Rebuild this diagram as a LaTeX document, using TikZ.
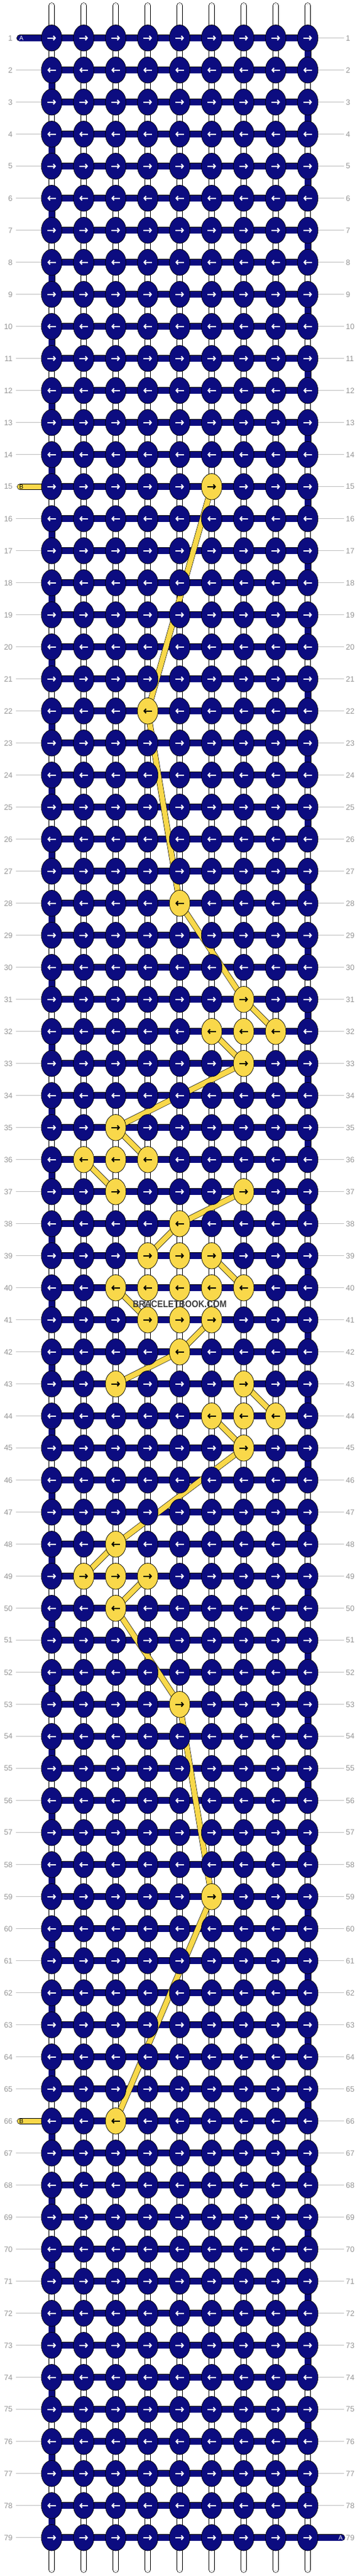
\documentclass[tikz,border=0pt]{standalone}
\usepackage{fontspec}
\setmainfont{Liberation Sans}
\usetikzlibrary{shapes.geometric,arrows.meta}

\definecolor{knotblue}{RGB}{12,12,128}
\definecolor{knotyellow}{RGB}{249,216,74}
\definecolor{labelgray}{RGB}{150,150,150}
\definecolor{linegray}{RGB}{192,192,192}
\definecolor{markgray}{RGB}{58,58,58}

\pgfdeclarelayer{back}
\pgfdeclarelayer{mid}
\pgfsetlayers{back,mid,main}

\tikzset{
  knot/.style={ellipse, draw=black, line width=0.7pt, minimum width=33.5pt, minimum height=42.5pt, inner sep=0pt},
  tip/.style={line width=2pt, -{Straight Barb[length=3pt,width=7pt]}},
  rarrow/.style={path picture={\draw[tip,karrow] ([xshift=-7pt]path picture bounding box.center) -- ([xshift=7pt]path picture bounding box.center);}},
  larrow/.style={path picture={\draw[tip,karrow] ([xshift=7pt]path picture bounding box.center) -- ([xshift=-7pt]path picture bounding box.center);}},
  white string/.style={double=white, double distance=8.8pt, line width=0.6pt, line cap=round},
  core/.style={draw=linegray, double=white, double distance=3.4pt, line width=0.6pt, line cap=round},
  astring/.style={double=knotblue, double distance=9.6pt, line width=0.7pt},
  bstring/.style={double=knotyellow, double distance=8.4pt, line width=0.6pt},
  rowlab/.style={font=\fontsize{12.5}{13}\selectfont, text=labelgray, inner sep=0pt},
  rowline/.style={draw=linegray, line width=1pt},
  endlab/.style={font=\fontsize{10}{10}\selectfont, inner sep=0pt}
}

\newcommand{\yellowknots}{15-6,22-4,28-5,31-7,32-6,32-7,32-8,33-7,35-3,36-2,36-3,36-4,37-3,37-7,38-5,39-4,39-5,39-6,40-3,40-4,40-5,40-6,40-7,41-4,41-5,41-6,42-5,43-3,43-7,44-6,44-7,44-8,45-7,48-3,49-2,49-3,49-4,50-3,53-5,59-6,66-3}
\newcommand{\bpath}{15-6/22-4,22-4/28-5,28-5/31-7,31-7/32-8,32-6/33-7,33-7/35-3,35-3/36-4,36-2/37-3,37-7/38-5,38-5/39-4,39-6/40-7,40-3/41-4,41-6/42-5,42-5/43-3,43-7/44-8,44-6/45-7,45-7/48-3,48-3/49-2,49-4/50-3,50-3/53-5,53-5/59-6,59-6/66-3}

\begin{document}
\begin{tikzpicture}[x=52pt, y=-52pt]
  \useasboundingbox (-0.6154,-0.1865) rectangle (10.6154,80.198);
  \foreach \p in \yellowknots {\expandafter\gdef\csname y@\p\endcsname{}}

  \foreach \r in {1,...,79} {
    \foreach \c in {1,...,9} {
      \ifcsname y@\r-\c\endcsname
        \tikzset{kfill/.style={fill=knotyellow}, karrow/.style={black}}
      \else
        \tikzset{kfill/.style={fill=knotblue}, karrow/.style={white}}
      \fi
      \ifodd\r\relax \tikzset{kdir/.style={rarrow}}\else \tikzset{kdir/.style={larrow}}\fi
      \node[knot, kfill, kdir] (k-\r-\c) at (\c,\r) {};
    }
    \node[rowlab, anchor=east] (ll\r) at (-0.219,\r) {\r};
    \node[rowlab, anchor=west] (lr\r) at (10.19,\r) {\r};
  }

  \coordinate (ain) at (0.01,1);
  \coordinate (aout) at (10.06,79);
  \coordinate (bin) at (0.01,15);
  \coordinate (bout) at (0.01,66);
  \foreach \c in {1,...,9} {
    \coordinate (top\c) at (\c,-0.01);
    \coordinate (bot\c) at (\c,80);
  }

  \begin{pgfonlayer}{back}
    \fill[white] (-0.6154,-0.1865) rectangle (10.6154,80.198);
    \foreach \r in {1,...,79} {
      \draw[rowline] ([xshift=5pt]ll\r.east) -- (k-\r-1.west);
      \draw[rowline] (k-\r-9.east) -- ([xshift=-3pt]lr\r.west);
    }
    \foreach \c in {1,...,9} {
      \draw[white string] (top\c) -- (bot\c);
      \draw[core] (top\c) -- (bot\c);
    }
    \draw[astring, line cap=round] (ain) -- (k-1-1.center);
    \foreach \r in {1,...,79}
      \draw[astring] (k-\r-1.center) -- (k-\r-9.center);
    \foreach \r [evaluate=\r as \s using int(\r+1)] in {1,3,...,77}
      \draw[astring] (k-\r-9.center) -- (k-\s-9.center);
    \foreach \r [evaluate=\r as \s using int(\r+1)] in {2,4,...,78}
      \draw[astring] (k-\r-1.center) -- (k-\s-1.center);
    \draw[astring, line cap=round] (k-79-9.center) -- (aout);
  \end{pgfonlayer}

  \begin{pgfonlayer}{mid}
    \draw[bstring, line cap=round] (bin) -- (k-15-1.center);
    \draw[bstring, line cap=round] (k-66-1.center) -- (bout);
    \foreach \a/\b in \bpath
      \draw[bstring] (k-\a.center) -- (k-\b.center);
  \end{pgfonlayer}

  \node[endlab, text=white] (alab) at (0.05,1) {A};
  \node[endlab, text=white] (alab2) at (10.03,79) {A};
  \node[endlab] (blab) at (0.05,15) {B};
  \node[endlab] (blab2) at (0.05,66) {B};

  \node[font=\bfseries\fontsize{15.5}{16}\selectfont, text=markgray, inner sep=0pt] (mark) at (5,40.5) {\scalebox{0.89}[1]{BRACELETBOOK.COM}};
\end{tikzpicture}
\end{document}
